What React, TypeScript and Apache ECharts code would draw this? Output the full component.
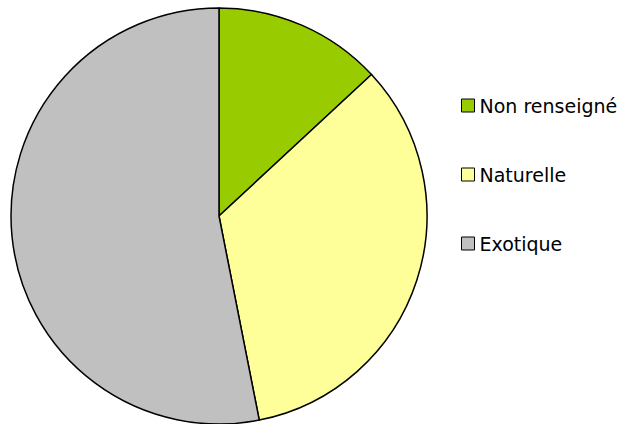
import React, { useEffect, useRef } from "react";
import * as echarts from "echarts";

const categories = ["Non renseigné", "Naturelle", "Exotique"];
const values = [13.1, 33.8, 53.1];
const colors = ["#99cc00", "#ffff99", "#c0c0c0"];

export default function App() {
  const ref = useRef<HTMLDivElement>(null);
  useEffect(() => {
    const chart = echarts.init(ref.current!, undefined, { renderer: "svg" });
    chart.setOption({
      animation: false,
      backgroundColor: "#ffffff",
      legend: {
        orient: "vertical",
        left: 461,
        top: 96,
        padding: 0,
        itemWidth: 13,
        itemHeight: 13,
        itemGap: 50,
        icon: "rect",
        data: categories,
        textStyle: {
          fontFamily: "DejaVu Sans",
          fontSize: 19,
          color: "#000",
          lineHeight: 19,
        },
        itemStyle: { borderColor: "#000", borderWidth: 1 },
      },
      series: [
        {
          type: "pie",
          center: [219, 216],
          radius: 208,
          startAngle: 90,
          clockwise: true,
          label: { show: false },
          labelLine: { show: false },
          emphasis: { disabled: true },
          itemStyle: { borderColor: "#000", borderWidth: 1.5 },
          data: categories.map((c, i) => ({
            name: c,
            value: values[i],
            itemStyle: { color: colors[i] },
          })),
        },
      ],
    });
    return () => chart.dispose();
  }, []);
  return <div ref={ref} style={{ width: 641, height: 424, position: "absolute", left: 0, top: 0 }} />;
}
